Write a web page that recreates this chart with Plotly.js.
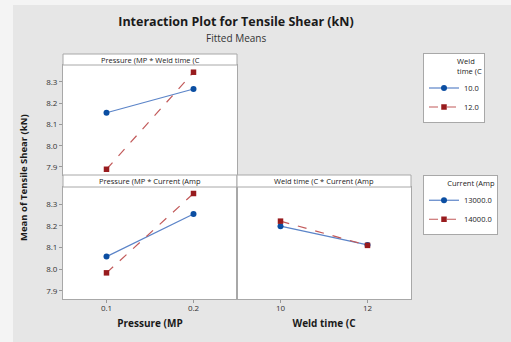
<!DOCTYPE html>
<html>
<head>
<meta charset="utf-8">
<script src="https://cdn.plot.ly/plotly-3.0.1.min.js"></script>
<style>html,body{margin:0;padding:0;background:#f4f4f4;}#chart{width:511px;height:342px;}</style>
</head>
<body>
<div id="chart"></div>
<script>
// Data
var pressure = [0.1, 0.2];
var weldTime = [10, 12];
var weld10_byPressure = [8.155, 8.267];
var weld12_byPressure = [7.889, 8.346];
var cur13000_byPressure = [8.058, 8.255];
var cur14000_byPressure = [7.983, 8.350];
var cur13000_byWeld = [8.199, 8.112];
var cur14000_byWeld = [8.222, 8.110];
var weldLegend = ["10.0", "12.0"];
var currentLegend = ["13000.0", "14000.0"];
var yTicks = [7.9, 8.0, 8.1, 8.2, 8.3];
var xTicksP = [0.1, 0.2];
var xTicksW = [10, 12];

var W = 511, H = 342;
function px(x){ return x / W; }
function py(y){ return 1 - y / H; }

var FONT = "Open Sans, Noto Sans, sans-serif";
var blueLine = "#5b84c8", blueMk = "#0b4ea2";
var redLine = "#c25a5a", redMk = "#981b1e";

function blue(x, y, xa, ya, name, legend, show){
  return {x: x, y: y, xaxis: xa, yaxis: ya, name: name, legend: legend, showlegend: show,
    type: "scatter", mode: "lines+markers",
    line: {color: blueLine, width: 1.2},
    marker: {color: blueMk, symbol: "circle", size: 6}};
}
function red(x, y, xa, ya, name, legend, show){
  return {x: x, y: y, xaxis: xa, yaxis: ya, name: name, legend: legend, showlegend: show,
    type: "scatter", mode: "lines+markers",
    line: {color: redLine, width: 1.2, dash: "dash"},
    marker: {color: redMk, symbol: "square", size: 5.5}};
}

var data = [
  blue(pressure, weld10_byPressure, "x", "y", weldLegend[0], "legend", true),
  red(pressure, weld12_byPressure, "x", "y", weldLegend[1], "legend", true),
  blue(pressure, cur13000_byPressure, "x2", "y2", currentLegend[0], "legend2", true),
  red(pressure, cur14000_byPressure, "x2", "y2", currentLegend[1], "legend2", true),
  blue(weldTime, cur13000_byWeld, "x3", "y3", currentLegend[0], "legend2", false),
  red(weldTime, cur14000_byWeld, "x3", "y3", currentLegend[1], "legend2", false)
];

var yr = [7.862, 8.38];
var tickFont = {family: FONT, size: 8, color: "#333"};
var common = {showline: true, mirror: true, linecolor: "#a8a8a8", linewidth: 1,
  showgrid: false, zeroline: false, ticks: "outside", ticklen: 3, tickcolor: "#999",
  tickfont: tickFont, fixedrange: true};

function ax(extra){ var o = {}; for (var k in common) o[k] = common[k]; for (var k2 in extra) o[k2] = extra[k2]; return o; }

var leftDom = [px(63), px(237)];
var rightDom = [px(237), px(411)];
var topDom = [py(175), py(65)];
var botDom = [py(299), py(187)];

var layout = {
  width: W, height: H,
  margin: {l: 0, r: 0, t: 0, b: 0},
  paper_bgcolor: "#e6e6e6",
  plot_bgcolor: "#ffffff",
  font: {family: FONT, color: "#222"},
  title: {text: "<b>Interaction Plot for Tensile Shear (kN)</b>", x: px(236), xanchor: "center",
    y: py(22), yanchor: "middle", font: {family: FONT, size: 12.5, color: "#1a1a1a"}},
  xaxis: ax({domain: leftDom, anchor: "y", range: [0.05, 0.25], showticklabels: false, ticks: ""}),
  yaxis: ax({domain: topDom, anchor: "x", range: yr, tickvals: yTicks, tickformat: ".1f"}),
  xaxis2: ax({domain: leftDom, anchor: "y2", range: [0.05, 0.25], tickvals: xTicksP, tickformat: ".1f",
    ticklabelstandoff: -2,
    title: {text: "<b>Pressure (MP</b>", font: {family: FONT, size: 10, color: "#1a1a1a"}, standoff: 8}}),
  yaxis2: ax({domain: botDom, anchor: "x2", range: yr, tickvals: yTicks, tickformat: ".1f"}),
  xaxis3: ax({domain: rightDom, anchor: "y3", range: [9, 13], tickvals: xTicksW,
    ticklabelstandoff: -2,
    title: {text: "<b>Weld time (C</b>", font: {family: FONT, size: 10, color: "#1a1a1a"}, standoff: 8}}),
  yaxis3: ax({domain: botDom, anchor: "x3", range: yr, showticklabels: false, ticks: ""}),
  legend: {x: px(423), y: py(53), xanchor: "left", yanchor: "top", bgcolor: "#ffffff",
    bordercolor: "#a8a8a8", borderwidth: 1, font: {family: FONT, size: 7.5, color: "#222"},
    title: {text: "Weld<br>time (C", side: "top right", font: {family: FONT, size: 7.5}},
    itemwidth: 30, tracegroupgap: 0},
  legend2: {x: px(423), y: py(175), xanchor: "left", yanchor: "top", bgcolor: "#ffffff",
    bordercolor: "#a8a8a8", borderwidth: 1, font: {family: FONT, size: 7.5, color: "#222"},
    title: {text: "Current (Amp", side: "top right", font: {family: FONT, size: 7.5}},
    itemwidth: 30, tracegroupgap: 0},
  shapes: [
    // outer light margin
    {type: "rect", xref: "paper", yref: "paper", x0: 0, x1: px(13), y0: 0, y1: 1, fillcolor: "#f4f4f4", line: {width: 0}, layer: "below"},
    {type: "rect", xref: "paper", yref: "paper", x0: 0, x1: 1, y0: py(5), y1: 1, fillcolor: "#f4f4f4", line: {width: 0}, layer: "below"},
    // strip headers
    {type: "rect", xref: "paper", yref: "paper", x0: px(63), x1: px(237), y0: py(65), y1: py(54), fillcolor: "#ffffff", line: {color: "#a8a8a8", width: 1}},
    {type: "rect", xref: "paper", yref: "paper", x0: px(63), x1: px(237), y0: py(187), y1: py(175), fillcolor: "#ffffff", line: {color: "#a8a8a8", width: 1}},
    {type: "rect", xref: "paper", yref: "paper", x0: px(237), x1: px(411), y0: py(187), y1: py(175), fillcolor: "#ffffff", line: {color: "#a8a8a8", width: 1}}
  ],
  annotations: [
    {text: "Fitted Means", xref: "paper", yref: "paper", x: px(236), y: py(38), xanchor: "center", yanchor: "middle", showarrow: false,
      font: {family: FONT, size: 10, color: "#333"}},
    {text: "Pressure (MP * Weld time (C", xref: "paper", yref: "paper", x: px(150), y: py(59.5), xanchor: "center", yanchor: "middle", showarrow: false,
      font: {family: FONT, size: 7.5, color: "#222"}},
    {text: "Pressure (MP * Current (Amp", xref: "paper", yref: "paper", x: px(150), y: py(181), xanchor: "center", yanchor: "middle", showarrow: false,
      font: {family: FONT, size: 7.5, color: "#222"}},
    {text: "Weld time (C * Current (Amp", xref: "paper", yref: "paper", x: px(324), y: py(181), xanchor: "center", yanchor: "middle", showarrow: false,
      font: {family: FONT, size: 7.5, color: "#222"}},
    {text: "<b>Mean of Tensile Shear (kN)</b>", xref: "paper", yref: "paper", x: px(23), y: py(178), xanchor: "center", yanchor: "middle", showarrow: false,
      textangle: -90, font: {family: FONT, size: 9.5, color: "#1a1a1a"}}
  ]
};

Plotly.newPlot("chart", data, layout, {displayModeBar: false, staticPlot: true});
</script>
</body>
</html>
